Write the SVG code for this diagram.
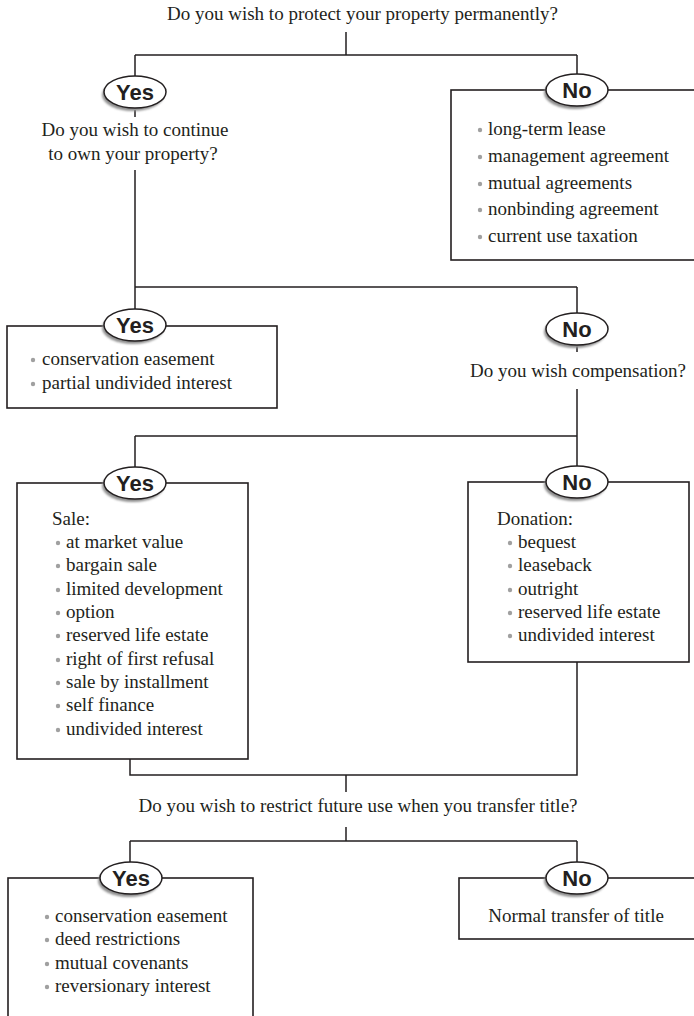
<svg xmlns="http://www.w3.org/2000/svg" width="694" height="1016" viewBox="0 0 694 1016">
  <style>
    .q { font-family: "Liberation Serif", "Times New Roman", serif; font-size: 19px; fill: #231f20; }
    .it { font-family: "Liberation Serif", "Times New Roman", serif; font-size: 19px; fill: #231f20; }
    .box { fill: #ffffff; stroke: #231f20; stroke-width: 1.6; }
    .ln { fill: none; stroke: #231f20; stroke-width: 1.5; }
    .pill { fill: #ffffff; stroke: #231f20; stroke-width: 1.5; }
    .shadow { fill: #8f8f8f; filter: url(#soft); }
    .lab { font-family: "Liberation Sans", Arial, sans-serif; font-weight: bold; font-size: 22px; fill: #231f20; text-anchor: middle; }
    .dot { fill: #a0a0a0; }
  </style>
  <defs>
    <filter id="soft" x="-20%" y="-30%" width="140%" height="160%">
      <feGaussianBlur stdDeviation="1.2"/>
    </filter>
    <!-- Yes/No tag: shadowed oval, centred on the origin -->
    <g id="tag">
      <ellipse class="shadow" cx="-2" cy="3" rx="31" ry="16"/>
      <ellipse class="pill" cx="0" cy="0" rx="31" ry="16"/>
    </g>
    <circle id="b" class="dot" r="2.2"/>
  </defs>

  <rect width="694" height="1016" fill="#ffffff"/>

  <!-- connectors -->
  <g id="connectors">
    <path class="ln" d="M346,32 V55 M135,55 H577 M135,55 V77 M577,55 V75"/>
    <path class="ln" d="M135,110 V117 M135,170 V287 M135,287 H577 M135,287 V310 M577,287 V313"/>
    <path class="ln" d="M577,346 V352 M577,389 V436 M135,436 H577 M135,436 V468 M577,436 V467"/>
    <path class="ln" d="M130,759 V775 H577 V662"/>
    <path class="ln" d="M346,775 V792 M346,827 V841 M130,841 H577 M130,841 V862 M577,841 V862"/>
  </g>

  <!-- question 1 -->
  <g id="q1">
    <text class="q" x="167" y="20">Do you wish to protect your property permanently?</text>
  </g>

  <!-- yes: keep ownership? -->
  <g id="yes1">
    <use href="#tag" x="135" y="92"/>
    <text class="lab" x="135" y="100">Yes</text>
    <text class="q" x="135" y="136" text-anchor="middle">Do you wish to continue</text>
    <text class="q" x="133" y="160" text-anchor="middle">to own your property?</text>
  </g>

  <!-- no: temporary options -->
  <g id="no1">
    <rect class="box" x="451" y="90" width="260" height="170"/>
    <use href="#tag" x="577" y="90"/>
    <text class="lab" x="577" y="98">No</text>
    <use href="#b" x="480" y="130"/><text class="it" x="488" y="135">long-term lease</text>
    <use href="#b" x="480" y="157"/><text class="it" x="488" y="162">management agreement</text>
    <use href="#b" x="480" y="184"/><text class="it" x="488" y="189">mutual agreements</text>
    <use href="#b" x="480" y="210"/><text class="it" x="488" y="215">nonbinding agreement</text>
    <use href="#b" x="480" y="237"/><text class="it" x="488" y="242">current use taxation</text>
  </g>

  <!-- yes: continue to own -->
  <g id="yes2">
    <rect class="box" x="7" y="326" width="270" height="82"/>
    <use href="#tag" x="135" y="325"/>
    <text class="lab" x="135" y="333">Yes</text>
    <use href="#b" x="33" y="360"/><text class="it" x="42" y="365">conservation easement</text>
    <use href="#b" x="33" y="384"/><text class="it" x="42" y="389">partial undivided interest</text>
  </g>

  <!-- no: compensation? -->
  <g id="no2">
    <use href="#tag" x="577" y="329"/>
    <text class="lab" x="577" y="337">No</text>
    <text class="q" x="578" y="377" text-anchor="middle">Do you wish compensation?</text>
  </g>

  <!-- yes: sale -->
  <g id="yes3">
    <rect class="box" x="17" y="483" width="231" height="276"/>
    <use href="#tag" x="135" y="483"/>
    <text class="lab" x="135" y="491">Yes</text>
    <text class="it" x="52" y="525">Sale:</text>
    <use href="#b" x="58" y="543"/><text class="it" x="66" y="548">at market value</text>
    <use href="#b" x="58" y="566"/><text class="it" x="66" y="571">bargain sale</text>
    <use href="#b" x="58" y="590"/><text class="it" x="66" y="595">limited development</text>
    <use href="#b" x="58" y="613"/><text class="it" x="66" y="618">option</text>
    <use href="#b" x="58" y="636"/><text class="it" x="66" y="641">reserved life estate</text>
    <use href="#b" x="58" y="660"/><text class="it" x="66" y="665">right of first refusal</text>
    <use href="#b" x="58" y="683"/><text class="it" x="66" y="688">sale by installment</text>
    <use href="#b" x="58" y="706"/><text class="it" x="66" y="711">self finance</text>
    <use href="#b" x="58" y="730"/><text class="it" x="66" y="735">undivided interest</text>
  </g>

  <!-- no: donation -->
  <g id="no3">
    <rect class="box" x="468" y="482" width="221" height="180"/>
    <use href="#tag" x="577" y="482"/>
    <text class="lab" x="577" y="490">No</text>
    <text class="it" x="497" y="525">Donation:</text>
    <use href="#b" x="510" y="543"/><text class="it" x="518" y="548">bequest</text>
    <use href="#b" x="510" y="566"/><text class="it" x="518" y="571">leaseback</text>
    <use href="#b" x="510" y="590"/><text class="it" x="518" y="595">outright</text>
    <use href="#b" x="510" y="613"/><text class="it" x="518" y="618">reserved life estate</text>
    <use href="#b" x="510" y="636"/><text class="it" x="518" y="641">undivided interest</text>
  </g>

  <!-- question: restrict future use -->
  <g id="q4">
    <text class="q" x="358" y="812" text-anchor="middle">Do you wish to restrict future use when you transfer title?</text>
  </g>

  <!-- yes: restrictions -->
  <g id="yes4">
    <rect class="box" x="8" y="878" width="245" height="150"/>
    <use href="#tag" x="131" y="878"/>
    <text class="lab" x="131" y="886">Yes</text>
    <use href="#b" x="47" y="917"/><text class="it" x="55" y="922">conservation easement</text>
    <use href="#b" x="47" y="940"/><text class="it" x="55" y="945">deed restrictions</text>
    <use href="#b" x="47" y="964"/><text class="it" x="55" y="969">mutual covenants</text>
    <use href="#b" x="47" y="987"/><text class="it" x="55" y="992">reversionary interest</text>
  </g>

  <!-- no: normal transfer -->
  <g id="no4">
    <rect class="box" x="459" y="878" width="250" height="61"/>
    <use href="#tag" x="577" y="878"/>
    <text class="lab" x="577" y="886">No</text>
    <text class="it" x="576" y="922" text-anchor="middle">Normal transfer of title</text>
  </g>
</svg>
